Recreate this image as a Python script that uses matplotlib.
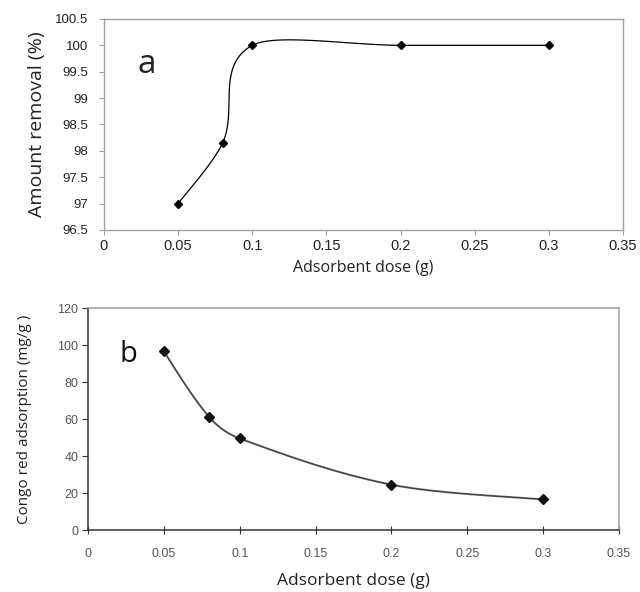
import numpy as np
import matplotlib
matplotlib.use("Agg")
import matplotlib.pyplot as plt

# Data
dose = [0.05, 0.08, 0.1, 0.2, 0.3]
removal = [97.0, 98.15, 100.0, 100.0, 100.0]
adsorption = [96.5, 61.0, 49.5, 24.5, 16.5]
xticks = [0, 0.05, 0.1, 0.15, 0.2, 0.25, 0.3, 0.35]
xtick_labels = ["0", "0.05", "0.1", "0.15", "0.2", "0.25", "0.3", "0.35"]
yticks_a = [96.5, 97, 97.5, 98, 98.5, 99, 99.5, 100, 100.5]
ytick_labels_a = ["96.5", "97", "97.5", "98", "98.5", "99", "99.5", "100", "100.5"]
yticks_b = [0, 20, 40, 60, 80, 100, 120]
ytick_labels_b = ["0", "20", "40", "60", "80", "100", "120"]


def smooth(xs, ys, xlim, ylim, n=80):
    """Excel-like smoothed line (Bezier, tangents scaled by segment lengths)."""
    xs = np.asarray(xs, float); ys = np.asarray(ys, float)
    nx = (xs - xlim[0]) / (xlim[1] - xlim[0])
    ny = (ys - ylim[0]) / (ylim[1] - ylim[0])
    P = np.column_stack([nx, ny])
    m = len(P)
    d = [np.linalg.norm(P[i + 1] - P[i]) for i in range(m - 1)]
    out = []
    for i in range(m - 1):
        p0 = P[max(i - 1, 0)]; p1 = P[i]; p2 = P[i + 1]; p3 = P[min(i + 2, m - 1)]
        d01 = d[i - 1] if i > 0 else d[i]
        d12 = d[i]
        d23 = d[i + 1] if i + 1 < m - 1 else d[i]
        c1 = p1 + (p2 - p0) * d12 / (3.0 * (d01 + d12))
        c2 = p2 - (p3 - p1) * d12 / (3.0 * (d12 + d23))
        t = np.linspace(0, 1, n)[:, None]
        seg = ((1 - t) ** 3) * p1 + 3 * ((1 - t) ** 2) * t * c1 + 3 * (1 - t) * t ** 2 * c2 + t ** 3 * p2
        out.append(seg if i == 0 else seg[1:])
    S = np.vstack(out)
    return (S[:, 0] * (xlim[1] - xlim[0]) + xlim[0],
            S[:, 1] * (ylim[1] - ylim[0]) + ylim[0])


fig = plt.figure(figsize=(6.4, 5.92), dpi=100)
tick_font = "Liberation Sans"
label_font = "Open Sans"

# ---- Panel a ----
axa = fig.add_axes([0.1625, 0.6115, 0.811, 0.3565])
xlim = (0, 0.35); ylim_a = (96.5, 100.5)
sx, sy = smooth(dose, removal, xlim, ylim_a)
axa.plot(sx, sy, color="black", lw=0.9)
axa.plot(dose, removal, linestyle="none", marker="D", ms=4.5, color="black")
axa.set_xlim(*xlim); axa.set_ylim(*ylim_a)
axa.set_xticks(xticks); axa.set_xticklabels(xtick_labels)
axa.set_yticks(yticks_a); axa.set_yticklabels(ytick_labels_a)
for s in axa.spines.values():
    s.set_color("#a0a0a0"); s.set_linewidth(1.0)
axa.tick_params(axis="both", direction="out", length=3.5, color="#a0a0a0",
                labelcolor="#222222")
axa.tick_params(axis="y", labelsize=9.5, pad=8)
axa.tick_params(axis="x", labelsize=10.5, pad=3)
for lab in axa.get_xticklabels() + axa.get_yticklabels():
    lab.set_fontfamily(tick_font)
axa.set_xlabel("Adsorbent dose (g)", fontsize=11.5, family=label_font, labelpad=5,
               color="#222222")
axa.set_ylabel("Amount removal (%)", fontsize=14, family=label_font, labelpad=6,
               color="#222222")
axa.text(0.064, 0.744, "a", transform=axa.transAxes, fontsize=24, family=label_font,
         color="#222222", va="baseline")

# ---- Panel b ----
axb = fig.add_axes([0.1375, 0.1047, 0.8297, 0.375])
ylim_b = (0, 120)
sx, sy = smooth(dose, adsorption, xlim, ylim_b)
axb.plot(sx, sy, color="#666666", lw=1.4)
axb.plot(sx, sy, color="#333333", lw=0.5)
axb.plot(dose, adsorption, linestyle="none", marker="D", ms=5, color="#111111")
axb.set_xlim(*xlim); axb.set_ylim(*ylim_b)
axb.set_xticks(xticks); axb.set_xticklabels(xtick_labels)
axb.set_yticks(yticks_b); axb.set_yticklabels(ytick_labels_b)
axb.spines["top"].set_color("#a0a0a0")
axb.spines["right"].set_color("#a0a0a0")
axb.spines["left"].set_color("#333333")
axb.spines["bottom"].set_color("#333333")
for s in axb.spines.values():
    s.set_linewidth(1.1)
axb.tick_params(axis="y", direction="out", length=4, color="#333333",
                labelsize=9, labelcolor="#555555", pad=3)
axb.tick_params(axis="x", direction="inout", length=6, color="#333333",
                labelsize=9, labelcolor="#555555", pad=10)
for lab in axb.get_xticklabels() + axb.get_yticklabels():
    lab.set_fontfamily(tick_font)
axb.set_xlabel("Adsorbent dose (g)", fontsize=12.5, family=label_font, labelpad=9,
               color="#222222")
axb.set_ylabel("Congo red adsorption (mg/g )", fontsize=11, family=label_font,
               labelpad=18, color="#222222")
axb.text(0.060, 0.757, "b", transform=axb.transAxes, fontsize=21, family=label_font,
         color="#111111", va="baseline")

fig.savefig("out.png", dpi=100)
